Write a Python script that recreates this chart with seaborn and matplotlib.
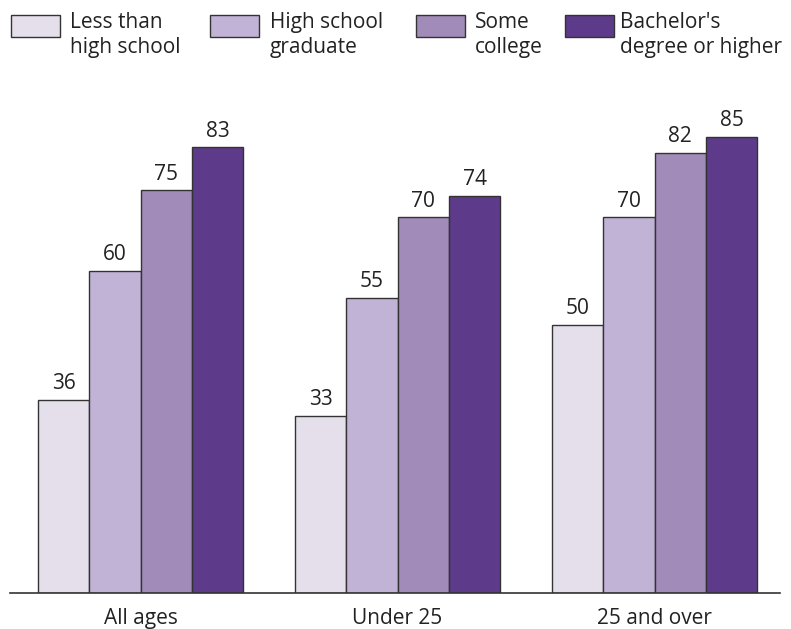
import matplotlib
matplotlib.use("Agg")
import matplotlib.pyplot as plt
import seaborn as sns
import pandas as pd
from matplotlib.patches import Rectangle

groups = ["All ages", "Under 25", "25 and over"]
levels = ["Less than\nhigh school", "High school\ngraduate", "Some\ncollege", "Bachelor's\ndegree or higher"]
less_than_hs = [36, 33, 50]
hs_grad = [60, 55, 70]
some_college = [75, 70, 82]
bachelors = [83, 74, 85]
colors = ["#E5DFEC", "#C0B3D6", "#A18BB9", "#5E3A8A"]

rows = []
for lvl, vals in zip(levels, [less_than_hs, hs_grad, some_college, bachelors]):
    for g, v in zip(groups, vals):
        rows.append({"group": g, "level": lvl, "value": v})
df = pd.DataFrame(rows)

sns.set_theme(style="white")
plt.rcParams["font.family"] = ["Open Sans", "DejaVu Sans"]

W, H = 791, 629
fig = plt.figure(figsize=(W/100, H/100), dpi=100)
ax = fig.add_axes([10/W, 36/H, 770/W, 537/H])
sns.barplot(data=df, x="group", y="value", hue="level", order=groups, hue_order=levels,
            palette=colors, width=0.8, edgecolor="#333333", linewidth=1.0, ax=ax,
            legend=False, saturation=1)

for c in ax.containers:
    ax.bar_label(c, fmt="%d", padding=4, fontsize=15, color="#222222")

ax.set_ylim(0, 100)
ax.set_xlim(-0.508, 2.488)
ax.set_xlabel("")
ax.set_ylabel("")
ax.set_yticks([])
for s in ["left", "right", "top"]:
    ax.spines[s].set_visible(False)
ax.spines["bottom"].set_color("#333333")
ax.spines["bottom"].set_linewidth(1.2)
ax.tick_params(axis="x", length=0, labelsize=15, pad=10.5, colors="#222222")

# legend drawn manually at top
patch_x = [11, 210, 416, 565]
text_x = [70, 270, 475, 620]
for px, tx, col, lab in zip(patch_x, text_x, colors, levels):
    fig.patches.append(Rectangle((px/W, 1 - 37/H), 49/W, 22/H, transform=fig.transFigure,
                                 facecolor=col, edgecolor="#333333", linewidth=1.0))
    fig.text(tx/W, 1 - 12/H, lab, ha="left", va="top", fontsize=15,
             color="#222222", linespacing=1.22)

fig.savefig("out.png", dpi=100)
